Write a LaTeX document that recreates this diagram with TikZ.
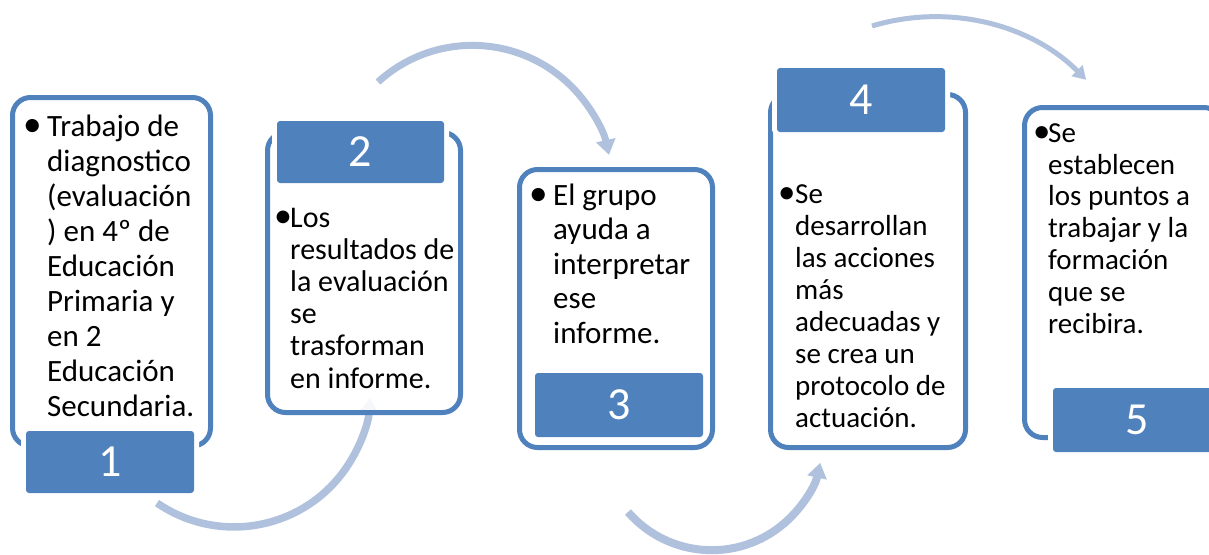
\documentclass[tikz,border=0pt]{standalone}
\usepackage{fontspec}
\setmainfont{Carlito}
\usetikzlibrary{arrows.meta}
\definecolor{boxblue}{HTML}{4F81BD}
\definecolor{arrowblue}{HTML}{AFC1DD}
\newcommand{\bul}[1]{\llap{\makebox[#1][l]{\scalebox{1.2}{•}}}}
\begin{document}
\begin{tikzpicture}[x=1pt,y=-1pt,
  card/.style={draw=boxblue, line width=5pt, rounded corners=18pt, fill=white, fill opacity=0.88, inner sep=0pt},
  numtag/.style={fill=boxblue, rounded corners=3pt, preaction={draw=white, line width=10pt, rounded corners=3pt},
    text=white, font=\fontsize{46}{46}\selectfont, minimum width=168pt, minimum height=63pt, inner sep=0pt},
  flow/.style={draw=arrowblue},
  body/.style={anchor=base west, align=left, inner sep=0pt, text=black},
]
\clip (0,0) rectangle (1209,554);
% arrows
\coordinate (a1s) at (157,503);
\coordinate (a2s) at (378,82);
\coordinate (a3s) at (628,512);
\coordinate (a4s) at (872,26);
\draw[flow, line width=7.5pt, -{Triangle[length=15pt,width=19pt]}] (a1s) arc[start angle=124.5, end angle=3, radius=136];
\draw[flow, line width=7pt, -{Triangle[length=15pt,width=19pt]}] (a2s) arc[start angle=-132.4, end angle=-12.6, radius=140];
\draw[flow, line width=8pt, -{Triangle[length=15pt,width=19pt]}] (a3s) arc[start angle=139, end angle=12.3, radius=111];
\draw[flow, line width=5pt, -{Triangle[length=13pt,width=15pt]}] (a4s) arc[start angle=-106.8, end angle=-45, radius=215];
% cards
\node[card, minimum width=198pt, minimum height=348.5pt] (c1) at (111.5,271.75) {};
\node[card, minimum width=193pt, minimum height=280pt] (c2) at (364,272.5) {};
\node[card, minimum width=193pt, minimum height=278pt] (c3) at (616,308.5) {};
\node[card, minimum width=195pt, minimum height=353pt] (c4) at (868,271) {};
\node[card, minimum width=197.5pt, minimum height=330pt] (c5) at (1123.25,272.5) {};
% number tags
\node[numtag, minimum height=62pt] (n1) at (110,462) {1};
\node[numtag, minimum width=167pt, minimum height=62pt] (n2) at (360.5,152) {2};
\node[numtag, minimum height=64pt] (n3) at (619,405) {3};
\node[numtag, minimum height=64pt] (n4) at (861,100) {4};
\node[numtag, minimum height=64pt] (n5) at (1137,420) {5};
% texts (anchored at the baseline of the last line)
\node[body, font=\fontsize{31}{35}\selectfont] (t1) at (47,416) {\bul{24pt}Trabajo de\\diagnostico\\(evaluación\\) en 4º de\\Educación\\Primaria y\\en 2\\Educación\\Secundaria.};
\node[body, font=\fontsize{30}{32.2}\selectfont] (t2) at (290,388) {\bul{16pt}Los\\resultados de\\la evaluación\\se\\trasforman\\en informe.};
\node[body, font=\fontsize{31}{34.5}\selectfont] (t3) at (553,343) {\bul{24pt}El grupo\\ayuda a\\interpretar\\ese\\informe.};
\node[body, font=\fontsize{29}{32}\selectfont] (t4) at (795,427) {\bul{17pt}Se\\desarrollan\\las acciones\\más\\adecuadas y\\se crea un\\protocolo de\\actuación.};
\node[body, font=\fontsize{29}{31.8}\selectfont] (t5) at (1048,333) {\bul{15pt}Se\\establecen\\los puntos a\\trabajar y la\\formación\\que se\\recibira.};
\end{tikzpicture}
\end{document}
